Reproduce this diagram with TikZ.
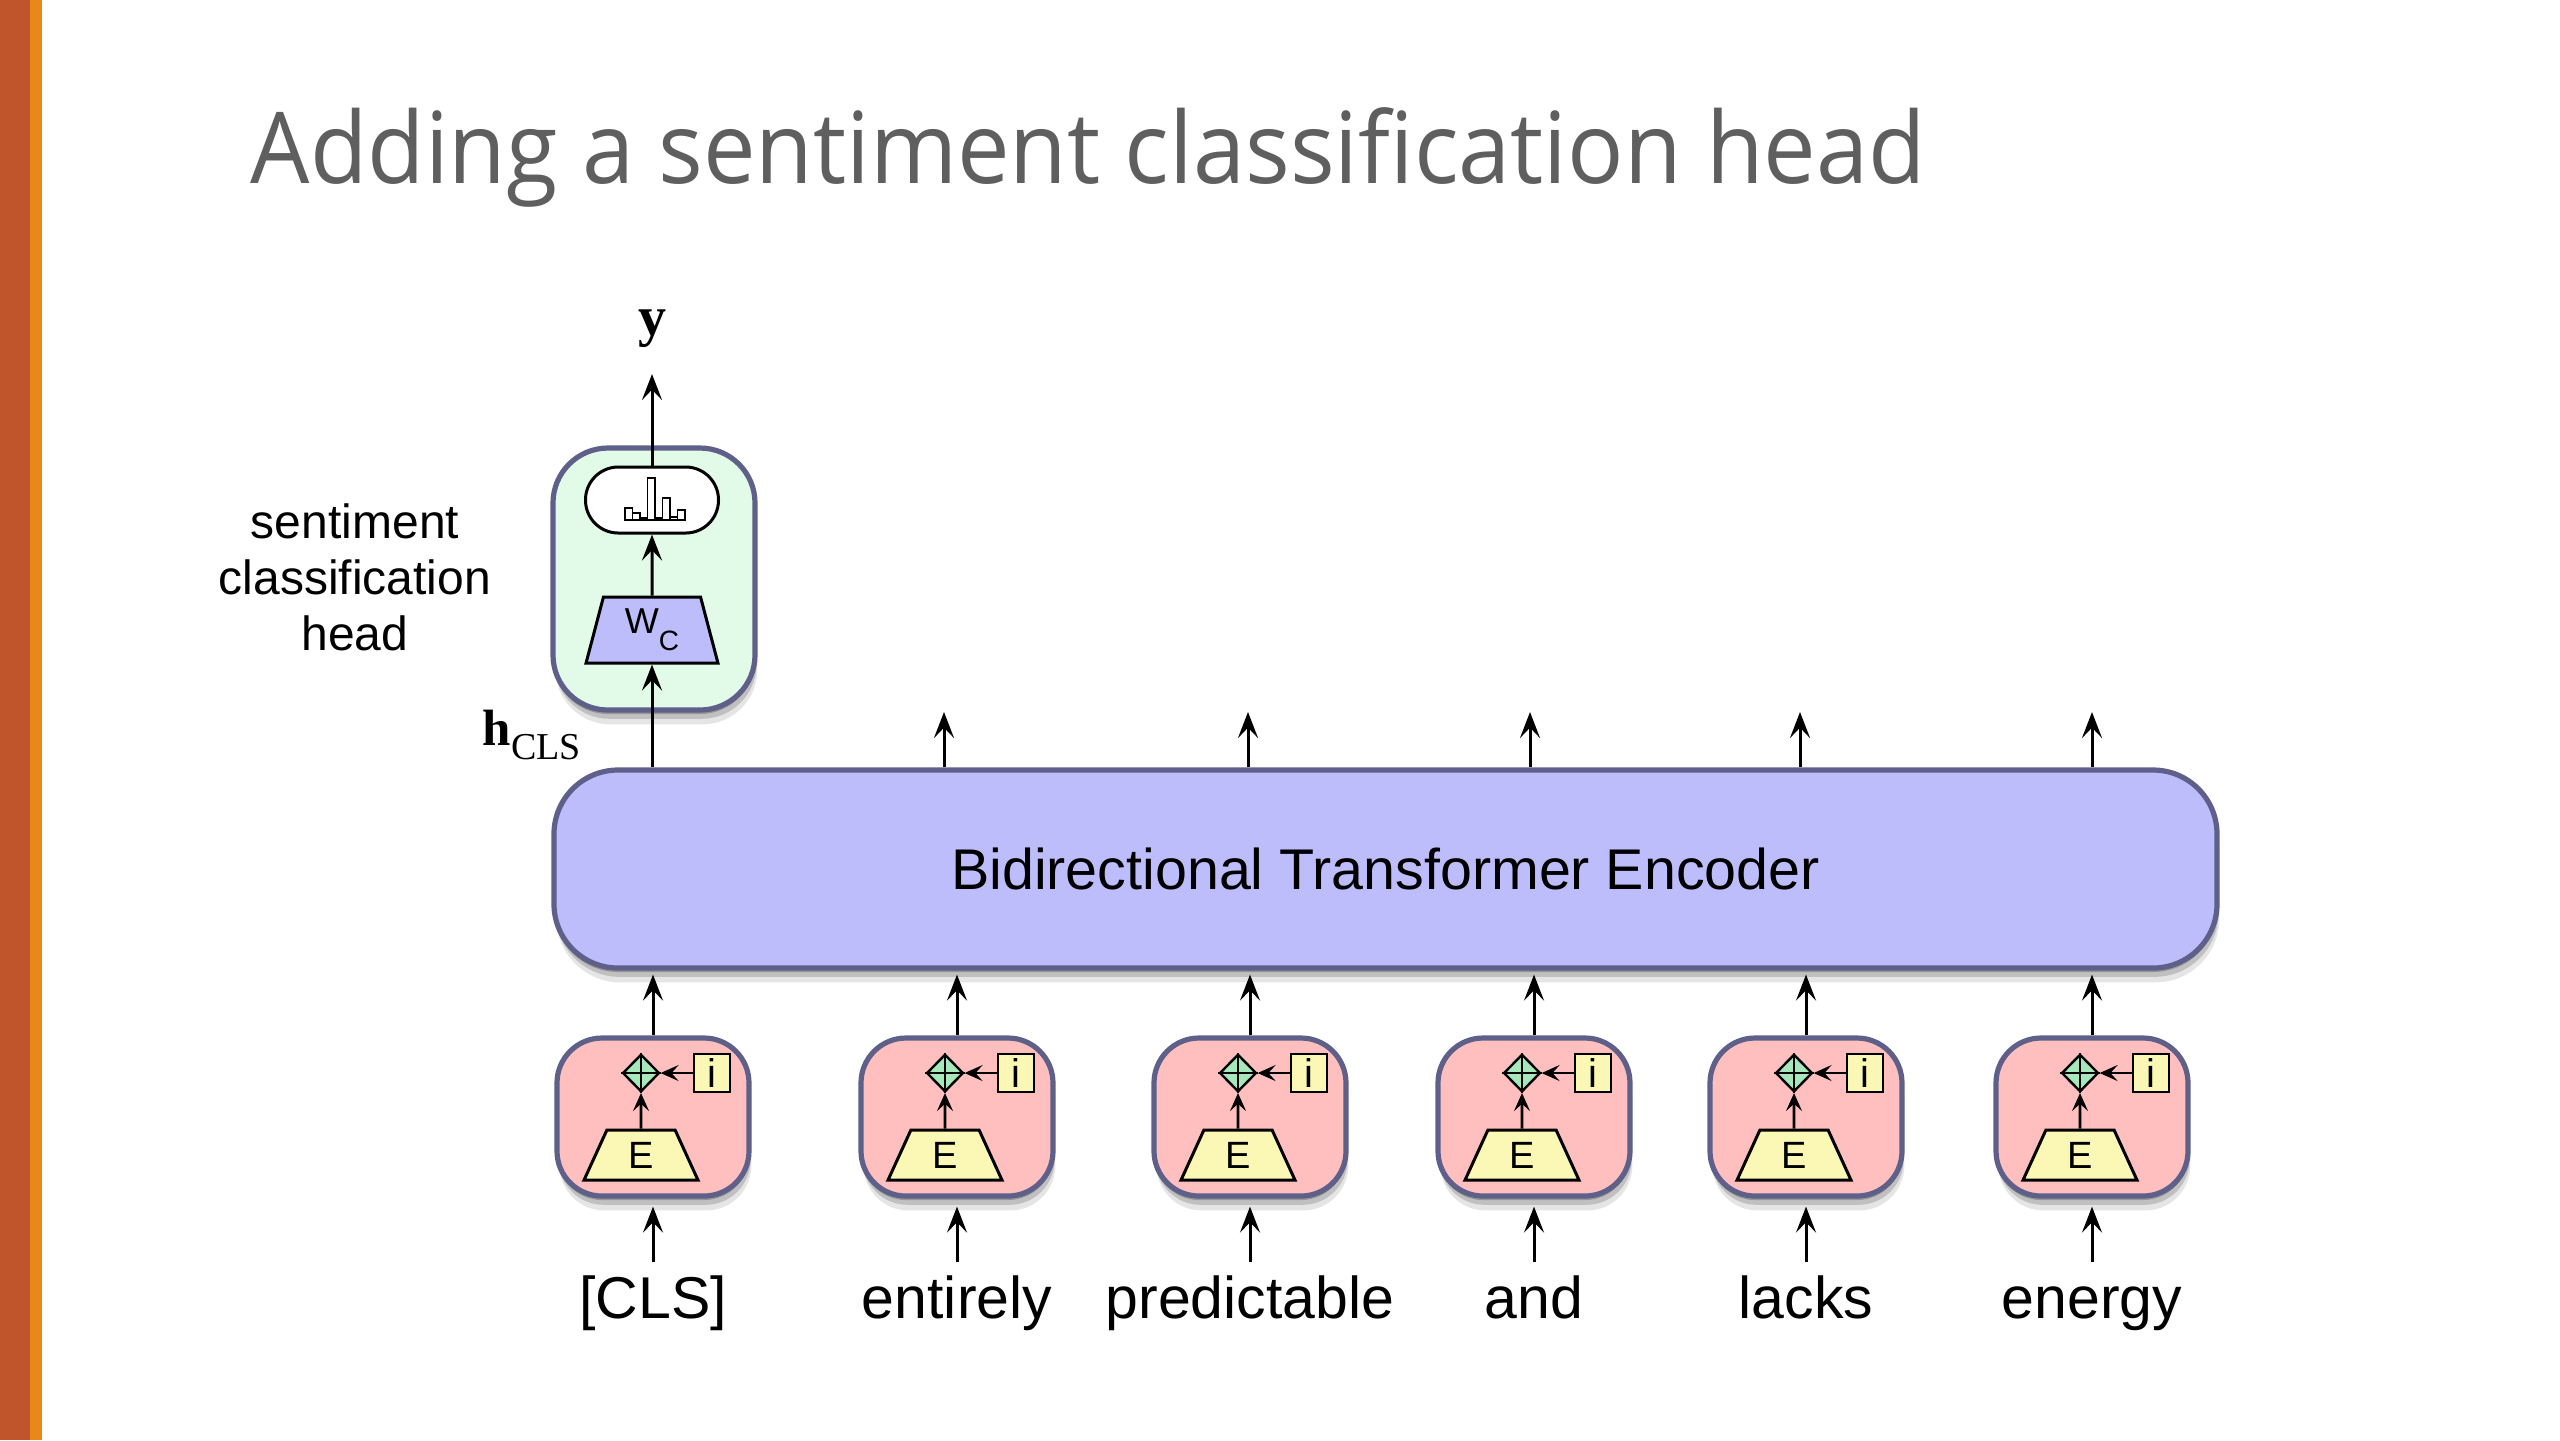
\documentclass[tikz,border=0pt]{standalone}
\usepackage{fontspec}
\setmainfont{Liberation Sans}
\newfontfamily\titlefont{Open Sans}
\newfontfamily\serifb{Liberation Serif}
\usetikzlibrary{shapes.geometric,shadows,arrows.meta}
\definecolor{barA}{HTML}{C0552B}
\definecolor{barB}{HTML}{E8881A}
\definecolor{titlegray}{HTML}{5F5F5F}
\definecolor{bord}{HTML}{5E6089}
\definecolor{pinkf}{HTML}{FFBFBF}
\definecolor{yellowf}{HTML}{FAF8B4}
\definecolor{plusf}{HTML}{A6E8B9}
\definecolor{lavf}{HTML}{BDBDFB}
\definecolor{mintf}{HTML}{E2FAE8}
\begin{document}
\begin{tikzpicture}[x=0.25pt,y=-0.25pt,
  arr/.style={line width=0.75pt,-{Stealth[length=6.5pt,width=5pt,inset=2.6pt]}},
  sarr/.style={line width=0.65pt,-{Stealth[length=4.5pt,width=4pt,inset=1.8pt]}},
  soft/.style={drop shadow={shadow xshift=0pt,shadow yshift=-1pt,opacity=0.22,fill=black},
               drop shadow={shadow xshift=0.4pt,shadow yshift=-2.2pt,opacity=0.16,fill=black},
               drop shadow={shadow xshift=0.6pt,shadow yshift=-3.6pt,opacity=0.10,fill=black}},
  outerbox/.style={draw=bord,line width=1.3pt,inner sep=0pt,soft},
  embbox/.style={outerbox,fill=pinkf,minimum width=48pt,minimum height=39.5pt,rounded corners=11.25pt},
  encbox/.style={outerbox,fill=lavf,minimum width=415.75pt,minimum height=49.5pt,rounded corners=16pt,
                 font=\fontsize{14.35pt}{16pt}\selectfont},
  headbox/.style={outerbox,fill=mintf,minimum width=50.5pt,minimum height=65.5pt,rounded corners=13.75pt},
  smbox/.style={draw=black,line width=0.75pt,fill=white,minimum width=33.25pt,minimum height=16.5pt,
                rounded corners=8.2pt,inner sep=0pt},
  trap/.style={trapezium,trapezium stretches=true,draw=black,line width=0.75pt,inner sep=0pt},
  ebox/.style={trap,fill=yellowf,minimum width=28.5pt,minimum height=12.5pt,
               trapezium left angle=72,trapezium right angle=72,font=\fontsize{9.5pt}{10pt}\selectfont},
  wcbox/.style={trap,fill=lavf,minimum width=33pt,minimum height=16.5pt,
               trapezium left angle=77,trapezium right angle=77,font=\fontsize{9pt}{10pt}\selectfont},
  plusd/.style={diamond,draw=black,line width=0.6pt,fill=plusf,minimum width=9.2pt,minimum height=9.4pt,inner sep=0pt},
  ibox/.style={rectangle,draw=black,line width=0.6pt,fill=yellowf,minimum width=8.9pt,minimum height=9.4pt,
               inner sep=0pt,font=\fontsize{10pt}{10pt}\selectfont},
  word/.style={anchor=base,inner sep=0pt,font=\fontsize{14.75pt}{17pt}\selectfont}
]
\useasboundingbox (0,0) rectangle (2560,1440);
\fill[white] (0,0) rectangle (2560,1440);
\fill[barA] (0,0) rectangle (30,1440);
\fill[barB] (30,0) rectangle (42,1440);
\node[anchor=base west,inner sep=0pt,text=titlegray,font=\titlefont\fontsize{24.8pt}{28pt}\selectfont] (title) at (250,183)
  {\scalebox{0.945}[1]{Adding a sentiment classification head}};

% encoder
\node[encbox] (enc) at (1385.5,869) {Bidirectional Transformer Encoder};

% classification head
\node[headbox] (hd) at (654,579) {};
\node[smbox] (sm) at (652,500) {};
\foreach \i/\h in {0/12,1/7,2/2,3/42,4/2,5/22,6/3,7/10}
  \draw[line width=0.35pt,fill=white] (625+\i*7.5,520) rectangle ++(7.5,-\h);
\node[wcbox] (wc) at (652,630) {W\raisebox{-4.25pt}{\fontsize{7pt}{8pt}\selectfont C}};
\draw[arr] (wc.south |- enc.north) -- (wc.south);
\draw[arr] (wc.north) -- (sm.south);
\coordinate (yt) at (652,374);
\draw[arr] (sm.north) -- (yt);
\node[anchor=base,inner sep=0pt,font=\serifb\bfseries\fontsize{14pt}{16pt}\selectfont] (ylab) at (652,335) {y};
\node[anchor=base west,inner sep=0pt,font=\serifb] (hcls) at (482,745)
  {{\bfseries\fontsize{12.75pt}{14pt}\selectfont h}\raisebox{-3.5pt}{\fontsize{9.5pt}{10pt}\selectfont CLS}};
\node[anchor=south,align=center,inner sep=0pt,font=\fontsize{12pt}{14pt}\selectfont] (hlab) at (355,652)
  {sentiment\\classification\\head};

% top output arrows
\foreach \n/\tx in {2/944,3/1248,4/1530,5/1800,6/2092}{
  \coordinate (ot\n) at (\tx,712);
  \draw[arr] (ot\n |- enc.north) -- (ot\n);
}

% embedding columns
\foreach \n/\cx/\w in {1/653/{[CLS]},2/957/entirely,3/1250/predictable,4/1534/and,5/1806/lacks,6/2092/energy}{
  \node[embbox] (emb\n) at (\cx,1117) {};
  \node[ebox] (E\n) at (\cx-12,1155) {E};
  \node[plusd] (pl\n) at (\cx-12,1073) {};
  \draw[line width=0.5pt] (pl\n.north) -- (pl\n.south) (pl\n.west) -- (pl\n.east);
  \node[ibox] (ib\n) at (\cx+59,1073) {i};
  \draw[sarr] (E\n.north) -- (pl\n.south);
  \draw[sarr] (ib\n.west) -- (pl\n.east);
  \node[word] (w\n) at (\cx,1318) {\w};
  \coordinate (ws\n) at (\cx,1262);
  \draw[arr] (ws\n) -- ([yshift=-2pt]emb\n.south);
  \draw[arr,shorten >=1pt] (emb\n.north) -- (emb\n.north |- enc.south);
}
\end{tikzpicture}
\end{document}
